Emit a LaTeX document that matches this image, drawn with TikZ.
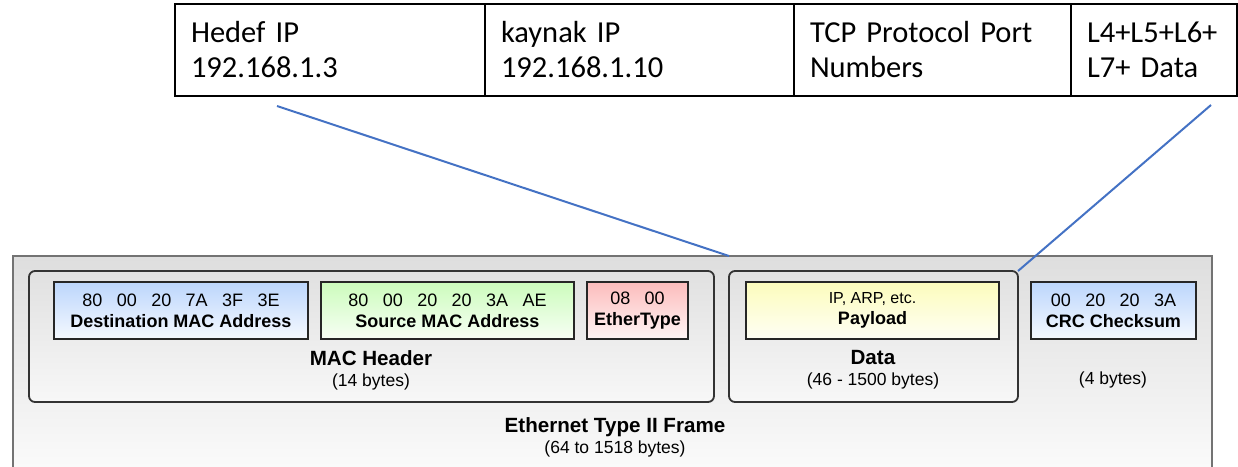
\documentclass[tikz,border=0pt]{standalone}
\usepackage{fontspec}
\setmainfont{Liberation Sans}
\newfontfamily\calfont{Carlito}
\usetikzlibrary{positioning}

\definecolor{linkblue}{RGB}{68,114,196}
\definecolor{macblue}{RGB}{188,214,252}
\definecolor{macgreen}{RGB}{204,252,188}
\definecolor{typered}{RGB}{252,188,188}
\definecolor{loadyellow}{RGB}{252,252,188}

\newcommand{\hx}{\hspace{0.8em}}

\begin{document}
\begin{tikzpicture}[x=1pt,y=-1pt,
    cell/.style={draw,line width=2pt,outer sep=0pt,minimum height=92pt,inner xsep=16pt,
        align=left,text width=#1,font=\calfont\fontsize{30.5}{35}\selectfont},
    frame/.style={draw=black!55,line width=1.5pt,outer sep=0pt,anchor=north west,
        top color=black!13,bottom color=black!1},
    group/.style={draw=black!80,line width=1.8pt,rounded corners=6pt,outer sep=0pt,
        anchor=north west,minimum height=131pt,top color=black!12,bottom color=black!3},
    field/.style={draw=black!85,line width=2pt,outer sep=0pt,inner sep=0pt,
        minimum height=57pt,align=center,font=\fontsize{18}{21}\selectfont},
    grplbl/.style={align=center,inner sep=0pt,font=\fontsize{20.6}{21}\selectfont},
    link/.style={linkblue,line width=2pt}]
    \useasboundingbox (0,0) rectangle (1238,466);

    % ethernet frame
    \node[frame,minimum width=1199pt,minimum height=230pt] (frame) at (13,256) {};
    \node[group,minimum width=685pt] (machdr) at (29,271) {};
    \node[group,minimum width=289pt] (datahdr) at (729,271) {};

    \node[field,minimum width=254pt,anchor=north west,top color=macblue,bottom color=macblue!15] (dst) at (54,282)
        {80\hx 00\hx 20\hx 7A\hx 3F\hx 3E\\\textbf{Destination MAC Address}};
    \node[field,minimum width=253pt,right=13pt of dst,top color=macgreen,bottom color=macgreen!15] (src)
        {80\hx 00\hx 20\hx 20\hx 3A\hx AE\\\textbf{Source MAC Address}};
    \node[field,minimum width=101pt,right=13pt of src,top color=typered,bottom color=typered!15] (etype)
        {08\hx 00\\\textbf{EtherType}};
    \node[field,minimum width=253pt,anchor=north west,top color=loadyellow,bottom color=loadyellow!15] (payload) at (746,282)
        {{\fontsize{16}{21}\selectfont IP, ARP, etc.}\\\textbf{Payload}};
    \node[field,minimum width=165pt,right=32pt of payload,top color=macblue,bottom color=macblue!15] (crc)
        {00\hx 20\hx 20\hx 3A\\\textbf{CRC Checksum}};

    \node[grplbl] (maclbl) at (371,370) {\textbf{MAC Header}\\{\fontsize{17.5}{20}\selectfont(14 bytes)}};
    \node[grplbl] (datalbl) at (873,370) {\textbf{Data}\\{\fontsize{17.5}{20}\selectfont(46 - 1500 bytes)}};
    \node[grplbl,font=\fontsize{17.5}{20}\selectfont] (crclbl) at (1113,380) {(4 bytes)};
    \node[grplbl] (framelbl) at (615,437) {\textbf{Ethernet Type II Frame}\\{\fontsize{17.5}{20}\selectfont(64 to 1518 bytes)}};

    % IP packet
    \node[cell=278pt,anchor=north west] (hedef) at (175,4) {Hedef IP\\192.168.1.3};
    \node[cell=277pt,right=0pt of hedef] (kaynak) {kaynak IP\\192.168.1.10};
    \node[cell=245pt,right=0pt of kaynak] (tcp) {TCP Protocol Port\\Numbers};
    \node[cell=134pt,right=0pt of tcp] (rest) {L4+L5+L6+\\L7+ Data};

    \coordinate (ipsrc) at (277,106);
    \coordinate (restsrc) at (1211,105);
    \coordinate (ipdst) at (frame.north -| datahdr.north west);
    \draw[link] (ipsrc) -- (ipdst);
    \draw[link] (restsrc) -- (datahdr.north east);
\end{tikzpicture}
\end{document}
